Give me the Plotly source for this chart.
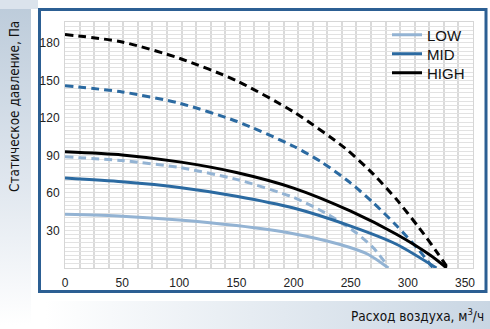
import base64
import plotly.graph_objects as go

# ---- data ----
flow_low = [0, 50, 100, 150, 200, 240, 265, 283]
p_low = [43, 41.5, 38.5, 34, 27.5, 19, 11, 0]

flow_mid = [0, 50, 100, 150, 200, 250, 290, 325]
p_mid = [72, 69, 64.5, 57.5, 48, 33.5, 19, 0]

flow_high = [0, 50, 100, 150, 200, 250, 290, 320, 334]
p_high = [93, 90.5, 85, 76.5, 64, 45.5, 27, 10, 0]

flow_low_max = [0, 50, 100, 150, 200, 230, 255, 270, 282]
p_low_max = [89, 86, 80.5, 71, 56.5, 43, 28, 16, 2]

flow_mid_max = [0, 50, 100, 150, 200, 225, 250, 270, 290, 310, 322]
p_mid_max = [146, 141, 132, 117.5, 97.5, 84.5, 68, 52, 34, 14, 0]

flow_high_max = [0, 50, 100, 150, 200, 245, 270, 290, 310, 326, 335]
p_high_max = [187, 181, 168, 150, 125, 96, 75, 55, 32, 12, 0]

x_ticks = [0, 50, 100, 150, 200, 250, 300, 350]
y_ticks = [30, 60, 90, 120, 150, 180]

names = ["LOW", "MID", "HIGH"]
colors = ["#93b3d3", "#2b6aa1", "#000000"]

W, H = 490, 329
ML, MR, MT, MB = 65, 17, 22, 61
PW, PH = W - ML - MR, H - MT - MB

fig = go.Figure()

solid = [(flow_low, p_low), (flow_mid, p_mid), (flow_high, p_high)]
dashed = [(flow_low_max, p_low_max), (flow_mid_max, p_mid_max), (flow_high_max, p_high_max)]
legend_ids = ["legend", "legend2", "legend3"]

for (fx, py), name, c in zip(dashed, names, colors):
    fig.add_trace(go.Scatter(x=fx, y=py, mode="lines", showlegend=False,
                             line=dict(color=c, width=3, dash="8px,5px", shape="spline", smoothing=0.7),
                             hoverinfo="skip"))
for (fx, py), name, c, lg in zip(solid, names, colors, legend_ids):
    fig.add_trace(go.Scatter(x=fx, y=py, mode="lines", name=name, legend=lg,
                             line=dict(color=c, width=3, shape="spline", smoothing=0.7)))

# decorative background (gradients + blue frame)
svg = f"""<svg xmlns='http://www.w3.org/2000/svg' width='{W}' height='{H}' viewBox='0 0 {W} {H}'>
<defs>
<linearGradient id='g1' x1='0' y1='0' x2='0' y2='1'>
<stop offset='0' stop-color='#bccbda'/><stop offset='0.55' stop-color='#dfe6ee'/><stop offset='1' stop-color='#ffffff'/></linearGradient>
<linearGradient id='g2' x1='0' y1='0' x2='1' y2='0'>
<stop offset='0' stop-color='#ffffff'/><stop offset='1' stop-color='#c9d6e3'/></linearGradient>
</defs>
<rect x='0' y='2' width='31' height='323' fill='url(#g1)'/>
<rect x='0' y='0' width='38' height='9' fill='#dbe3ec'/>
<rect x='45' y='301' width='445' height='28' fill='url(#g2)'/>
<rect x='39.5' y='9.5' width='446.5' height='282' fill='#ffffff' stroke='#2c5f93' stroke-width='3'/>
</svg>"""
src = "data:image/svg+xml;base64," + base64.b64encode(svg.encode("utf-8")).decode("ascii")

fig.add_layout_image(dict(source=src, xref="paper", yref="paper",
                          x=-ML / PW, y=1 + MT / PH, sizex=W / PW, sizey=H / PH,
                          xanchor="left", yanchor="top", sizing="stretch", layer="below"))

tick_font = dict(family="Liberation Sans, Arial, sans-serif", size=12, color="#222222")
title_font = "Liberation Sans Narrow, DejaVu Sans Condensed, Liberation Sans, sans-serif"
legend_font = dict(family="Liberation Sans, Arial, sans-serif", size=15, color="#111111")


def legend_at(py):
    return dict(x=(387 - ML) / PW, y=(H - MB - py) / PH, xanchor="left", yanchor="middle",
                bgcolor="rgba(0,0,0,0)", font=legend_font, borderwidth=0)


fig.update_layout(
    width=W, height=H,
    margin=dict(l=ML, r=MR, t=MT, b=MB, pad=0),
    paper_bgcolor="white", plot_bgcolor="white",
    showlegend=True,
    legend=legend_at(35),
    legend2=legend_at(54),
    legend3=legend_at(73),
    xaxis=dict(range=[0, 357], tickvals=x_ticks, showgrid=False, zeroline=False,
               showline=True, linecolor="#d6d6d6", linewidth=1, mirror=True,
               ticks="", ticklabelstandoff=4, tickfont=tick_font,
               minor=dict(dtick=12.75, tick0=0, showgrid=True, gridcolor="#dadada", gridwidth=1.5)),
    yaxis=dict(range=[0, 197], tickvals=y_ticks, showgrid=False, zeroline=False,
               showline=True, linecolor="#d6d6d6", linewidth=1, mirror=True,
               ticks="", ticklabelstandoff=2, tickfont=tick_font,
               minor=dict(dtick=197 / 59, tick0=0, showgrid=True, gridcolor="#e2e2e2", gridwidth=1)),
    annotations=[
        dict(text="Статическое давление, Па", xref="paper", yref="paper",
             x=(14 - ML) / PW, y=(H - MB - 107) / PH, xanchor="center", yanchor="middle",
             textangle=-90, showarrow=False, font=dict(family=title_font, size=13.5, color="#111111")),
        dict(text="Расход воздуха, м<sup>3</sup>/ч", xref="paper", yref="paper",
             x=(349 - ML) / PW, y=-(315 - (H - MB)) / PH, xanchor="left", yanchor="middle",
             showarrow=False, font=dict(family=title_font, size=13.5, color="#111111")),
    ],
)

fig.write_html("out.html", config={"displayModeBar": False},
               post_script="document.body.style.margin='0';document.body.style.padding='0';")
